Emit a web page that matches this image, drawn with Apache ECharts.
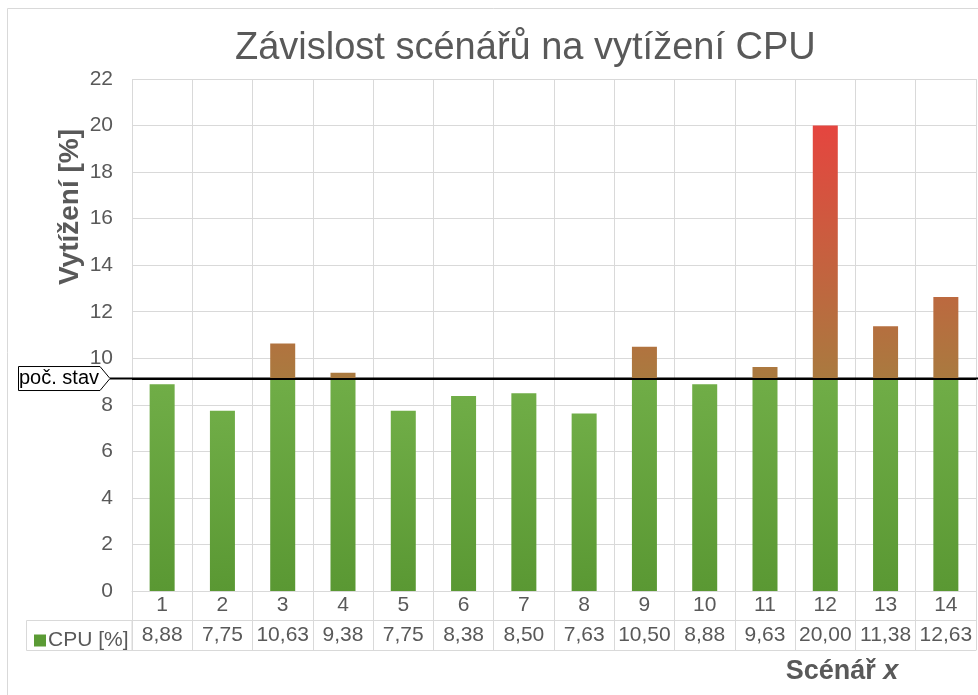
<!DOCTYPE html>
<html>
<head>
<meta charset="utf-8">
<script src="https://cdn.jsdelivr.net/npm/echarts@6/dist/echarts.min.js"></script>
<style>
  html, body { margin: 0; padding: 0; background: #fff; }
  #chart { width: 978px; height: 695px; }
</style>
</head>
<body>
<div id="chart"></div>
<script>
  // data
  var scenare = ['1', '2', '3', '4', '5', '6', '7', '8', '9', '10', '11', '12', '13', '14']
  var cpuValues = [8.88, 7.75, 10.63, 9.38, 7.75, 8.38, 8.50, 7.63, 10.50, 8.88, 9.63, 20.00, 11.38, 12.63]
  var pocStav = 9.13
  var yTicks = {min: 0, max: 22, interval: 2}

  var textColor = '#595959'
  var gridColor = '#d9d9d9'
  var font = 'Liberation Sans, Arial, sans-serif'

  // barvy prechodu nad pocatecnim stavem (hneda -> cervena)
  var lowColor = [169, 122, 63]
  var highColor = [229, 69, 63]
  var maxVal = Math.max.apply(null, cpuValues)

  function mix(t) {
    var c = []
    for (var i = 0; i < 3; i++) {
      c.push(Math.round(lowColor[i] + (highColor[i] - lowColor[i]) * t))
    }
    return 'rgb(' + c.join(',') + ')'
  }

  function formatCz(v) {
    return v.toFixed(2).replace('.', ',')
  }

  var greenData = cpuValues.map(function (v) {
    return Math.min(v, pocStav)
  })
  var upperData = cpuValues.map(function (v) {
    if (v <= pocStav) return '-'
    var t = (v - pocStav) / (maxVal - pocStav)
    return {
      value: v - pocStav,
      itemStyle: {
        color: new echarts.graphic.LinearGradient(0, 0, 0, 1, [
          {offset: 0, color: mix(t)},
          {offset: 1, color: mix(0)}
        ])
      }
    }
  })

  var chart = echarts.init(document.getElementById('chart'))

  chart.setOption({
    animation: false,
    textStyle: {fontFamily: font},
    title: {
      text: 'Závislost scénářů na vytížení CPU',
      left: 230,
      top: 25,
      textStyle: {color: textColor, fontSize: 38, fontWeight: 'normal', fontFamily: font}
    },
    legend: {
      left: 29,
      top: 625,
      icon: 'rect',
      itemWidth: 12,
      itemHeight: 12,
      itemGap: 4,
      selectedMode: false,
      textStyle: {color: textColor, fontSize: 21, fontFamily: font, padding: [0, 0, 0, -3]},
      data: [{name: 'CPU [%]', itemStyle: {color: '#5b9b35'}}]
    },
    grid: {left: 132, right: 2, top: 79, bottom: 104, containLabel: false},
    xAxis: [{
      type: 'category',
      data: scenare,
      position: 'bottom',
      axisLine: {show: true, lineStyle: {color: gridColor, width: 1}},
      axisTick: {show: true, interval: 0, length: 29, lineStyle: {color: gridColor}},
      axisLabel: {color: textColor, fontSize: 21, margin: 4, interval: 0},
      splitLine: {show: true, interval: 0, lineStyle: {color: gridColor}}
    }, {
      type: 'category',
      data: cpuValues.map(formatCz),
      position: 'bottom',
      offset: 29,
      axisLine: {show: true, lineStyle: {color: gridColor, width: 1}},
      axisTick: {show: true, interval: 0, length: 30, lineStyle: {color: gridColor}},
      axisLabel: {color: textColor, fontSize: 21, margin: 5, interval: 0}
    }, {
      type: 'category',
      data: scenare,
      position: 'bottom',
      offset: 59,
      axisLine: {show: true, lineStyle: {color: gridColor, width: 1}},
      axisTick: {show: false},
      axisLabel: {show: false}
    }],
    yAxis: {
      type: 'value',
      min: yTicks.min,
      max: yTicks.max,
      interval: yTicks.interval,
      axisLine: {show: false},
      axisTick: {show: false},
      axisLabel: {color: textColor, fontSize: 21, margin: 19},
      splitLine: {lineStyle: {color: gridColor}}
    },
    series: [{
      name: 'CPU [%]',
      type: 'bar',
      stack: 'cpu',
      barWidth: 25,
      data: greenData,
      itemStyle: {
        color: new echarts.graphic.LinearGradient(0, 0, 0, 1, [
          {offset: 0, color: '#70ad47'},
          {offset: 1, color: '#5a9833'}
        ])
      }
    }, {
      name: 'nad',
      type: 'bar',
      stack: 'cpu',
      barWidth: 25,
      data: upperData,
      markLine: {
        silent: true,
        symbol: 'none',
        label: {show: false},
        lineStyle: {color: '#000', width: 2, type: 'solid'},
        data: [{yAxis: pocStav}]
      }
    }]
  })

  // stitek pocatecniho stavu + popisky os
  var lineY = chart.convertToPixel({yAxisIndex: 0}, pocStav)
  var plotLeft = 132

  chart.setOption({
    graphic: [{
      type: 'rect',
      silent: true,
      shape: {x: 7.5, y: 8.5, width: 1000, height: 720},
      style: {fill: 'none', stroke: gridColor, lineWidth: 1}
    }, {
      type: 'rect',
      silent: true,
      shape: {x: 26.5, y: 620.5, width: plotLeft - 26.5, height: 30},
      style: {fill: 'none', stroke: gridColor, lineWidth: 1}
    }, {
      type: 'line',
      silent: true,
      shape: {x1: 110, y1: lineY, x2: 978, y2: lineY},
      style: {stroke: '#000', lineWidth: 2}
    }, {
      type: 'polygon',
      silent: true,
      shape: {points: [[18.5, lineY - 12], [100, lineY - 12], [110, lineY], [100, lineY + 12], [18.5, lineY + 12]]},
      style: {fill: '#fff', stroke: '#000', lineWidth: 1}
    }, {
      type: 'text',
      silent: true,
      x: 19,
      y: lineY,
      style: {text: 'poč. stav', font: '20px ' + font, fill: '#000', verticalAlign: 'middle'}
    }, {
      type: 'text',
      silent: true,
      x: 70,
      y: 207,
      rotation: Math.PI / 2,
      style: {
        text: 'Vytížení [%]',
        font: 'bold 28px ' + font,
        fill: textColor,
        align: 'center',
        verticalAlign: 'middle'
      }
    }, {
      type: 'text',
      silent: true,
      x: 842,
      y: 672,
      style: {
        text: '{a|Scénář }{b|x}',
        align: 'center',
        verticalAlign: 'middle',
        rich: {
          a: {font: 'bold 27px ' + font, fill: textColor},
          b: {font: 'italic bold 27px ' + font, fill: textColor}
        }
      }
    }]
  })

  window.addEventListener('resize', function () {
    chart.resize()
  })
</script>
</body>
</html>
